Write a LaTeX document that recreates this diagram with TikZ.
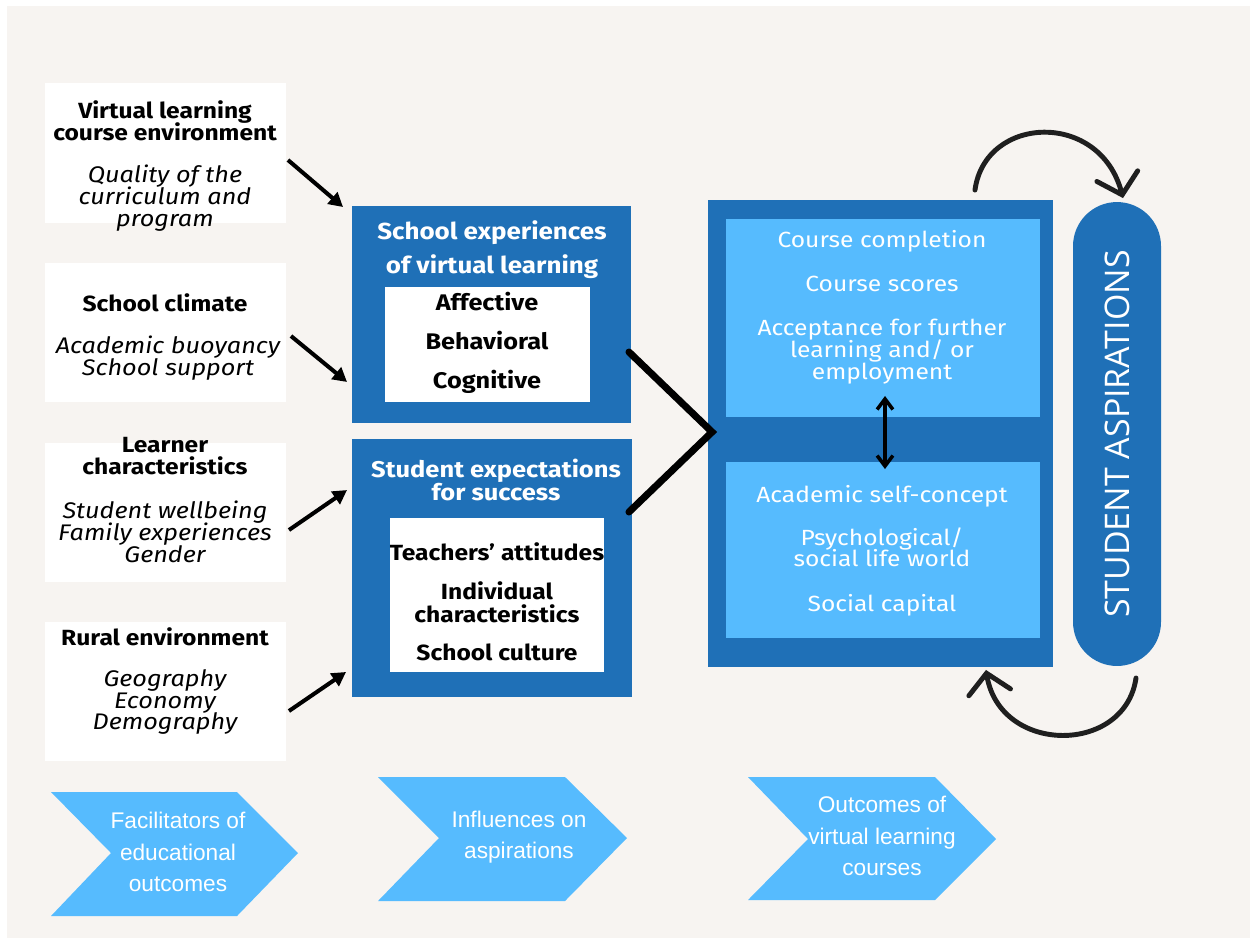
\documentclass[tikz,border=0pt]{standalone}
\usepackage{fontspec}
\setmainfont{Fira Sans}[FakeStretch=1.12]
\newfontfamily\chevfont{Liberation Sans}
\newfontfamily\pillfont{Open Sans}
\usetikzlibrary{arrows.meta,calc}
\definecolor{bg}{HTML}{F7F4F1}
\definecolor{dblue}{HTML}{1F70B7}
\definecolor{lblue}{HTML}{56BBFE}
\newcommand\tightlines{\lineskiplimit=-40pt\lineskip=0pt}
\begin{document}
\begin{tikzpicture}[x=0.02cm,y=-0.02cm,
  wbox/.style={fill=white,draw=none,inner sep=0,outer sep=0,minimum width=4.82cm,minimum height=2.79cm},
  bbox/.style={fill=dblue,draw=none,inner sep=0,outer sep=0},
  ibox/.style={fill=white,draw=none,inner sep=0,outer sep=0},
  lbox/.style={fill=lblue,draw=none,inner sep=0,outer sep=0},
  ttl/.style={font=\bfseries\fontsize{12.5}{12.5}\selectfont\tightlines,align=center,inner sep=0},
  itl/.style={font=\itshape\fontsize{12.85}{12.5}\selectfont\tightlines,align=center,inner sep=0},
  wttl/.style={font=\bfseries\fontsize{13.2}{19.3}\selectfont\tightlines,align=center,inner sep=0,text=white},
  itm/.style={font=\bfseries\fontsize{12.5}{13}\selectfont\tightlines,align=center,inner sep=0},
  ltx/.style={font=\fontsize{12.5}{12.5}\selectfont\tightlines,align=center,inner sep=0,text=white},
  chev/.style={fill=lblue,draw=none},
  ctx/.style={font=\chevfont\fontsize{12.9}{18}\selectfont\tightlines,align=center,inner sep=0,text=white},
  arr/.style={line width=2.3pt,-{Triangle[length=8pt,width=8.5pt]}},
  curv/.style={line width=2.8pt,line cap=round,draw=black!88,-{Straight Barb[length=11pt,width=24pt,line cap=round]}},
  dbl/.style={line width=2pt,{Straight Barb[length=6pt,width=9pt]}-{Straight Barb[length=6pt,width=9pt]}}
]
\useasboundingbox (0,0) rectangle (1250,938);
\fill[bg] (7,6) rectangle (1250,938);

% left boxes
\node[wbox] (L1) at (165.5,153) {};
\node[wbox] (L2) at (165.5,332.5) {};
\node[wbox] (L3) at (165.5,512.5) {};
\node[wbox] (L4) at (165.5,691.5) {};
\node[ttl] (L1t) at (165,121) {Virtual learning\\course environment};
\node[itl] (L1i) at (165,198) {Quality of the\\curriculum and\\program};
\node[ttl] (L2t) at (165,303) {School climate};
\node[itl] (L2i) at (168,358) {Academic buoyancy\\School support};
\node[ttl] (L3t) at (165,456) {Learner\\characteristics};
\node[itl] (L3i) at (165,532) {Student wellbeing\\Family experiences\\Gender};
\node[ttl] (L4t) at (165,637) {Rural environment};
\node[itl] (L4i) at (165,702) {Geography\\Economy\\Demography};

% middle blue boxes
\node[bbox,minimum width=5.58cm,minimum height=4.34cm] (B1) at (491.5,314.5) {};
\node[ibox,minimum width=4.1cm,minimum height=2.3cm] (W1) at (487.5,344.5) {};
\node[wttl] (B1t) at (492,250) {School experiences\\of virtual learning};
\node[itm,font=\bfseries\fontsize{12.85}{22.1}\selectfont\tightlines] (W1t) at (487,343) {Affective\\Behavioral\\Cognitive};

\node[bbox,minimum width=5.6cm,minimum height=5.16cm] (B2) at (492,568) {};
\node[ibox,minimum width=4.28cm,minimum height=3.08cm] (W2) at (497,595) {};
\node[wttl,font=\bfseries\fontsize{12.95}{13.6}\selectfont\tightlines] (B2t) at (496,480) {Student expectations\\for success};
\node[itm] (W2t) at (497,602) {Teachers’ attitudes\\[9pt]Individual\\characteristics\\[9pt]School culture};

% outcomes box
\node[bbox,minimum width=6.9cm,minimum height=9.34cm] (O) at (880.5,433.5) {};
\node[lbox,minimum width=6.28cm,minimum height=3.96cm] (U) at (883,318) {};
\node[lbox,minimum width=6.28cm,minimum height=3.52cm] (D) at (883,550) {};
\node[ltx] (Ut) at (882,307) {Course completion\\[12.5pt]Course scores\\[12.5pt]Acceptance for further\\learning and/ or\\employment};
\node[ltx,font=\fontsize{12.5}{12}\selectfont\tightlines] (Dt) at (882,551) {Academic self-concept\\[12.5pt]Psychological/\\social life world\\[13.5pt]Social capital};

% pill
\node[bbox,minimum width=1.76cm,minimum height=9.28cm,rounded corners=0.88cm] (P) at (1117,434) {};
\node[rotate=90,text=white,inner sep=0,font=\pillfont\fontsize{19.3}{20}\selectfont] (Pt) at (1117,434) {STUDENT ASPIRATIONS};

% arrows from left boxes
\draw[arr] ($(L1.east)+(2,7)$) -- ($(B1.north west)+(-9,1)$);
\draw[arr] ($(L2.east)+(5,3.5)$) -- ($(B1.south west)+(-5,-41)$);
\draw[arr] ($(L3.east)+(3,17.5)$) -- ($(B2.north west)+(-5,51)$);
\draw[arr] ($(L4.east)+(3,19.5)$) -- ($(B2.south west)+(-6,-25)$);

% chevron connector
\draw[line width=4pt,line cap=round,line join=miter]
  ($(B1.east)+(-2,37.5)$) -- ($(O.west)+(4,-1.5)$) -- ($(B2.east)+(-3,-56)$);

% double arrow
\draw[dbl] ($(U.south)+(2,-21)$) -- ($(D.north)+(2,7)$);

% curved arrows
\draw[curv] ($(O.north east)+(-78,-10)$) .. controls (985,115) and (1100,110) .. ($(P.north)+(6,-4)$);
\draw[curv] ($(P.south)+(19,12)$) .. controls (1125,755) and (1000,755) .. ($(O.south east)+(-67,3)$);

% bottom chevrons
\fill[chev] (51,792) -- (237,792) -- (298,853) -- (237,916) -- (51,916) -- (111,853) -- cycle;
\fill[chev] (378,777) -- (565,777) -- (627,838) -- (565,901) -- (378,901) -- (439,838) -- cycle;
\fill[chev] (748,777) -- (935,777) -- (996,839) -- (935,900) -- (748,900) -- (808,839) -- cycle;
\node[ctx] (C1) at (178,852) {Facilitators of\\educational\\outcomes};
\node[ctx] (C2) at (519,837) {Influences on\\aspirations};
\node[ctx] (C3) at (882,836) {Outcomes of\\virtual learning\\courses};
\end{tikzpicture}
\end{document}
